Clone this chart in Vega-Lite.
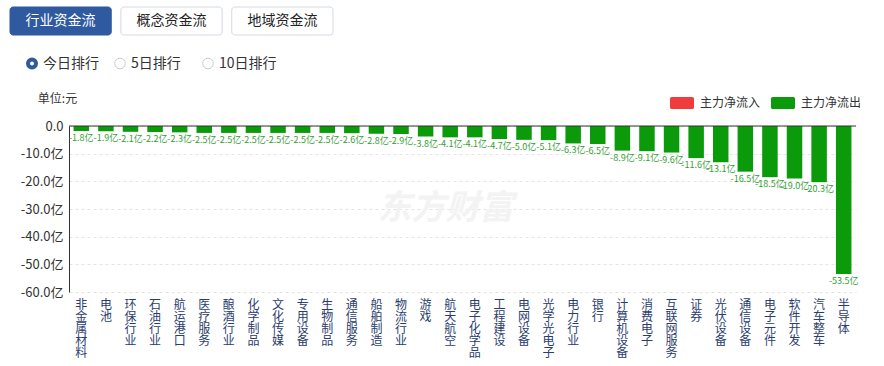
{
  "$schema": "https://vega.github.io/schema/vega-lite/v6.json",
  "background": "white",
  "padding": {"left": 9, "top": 6, "right": 20, "bottom": 4},
  "spacing": 9,
  "config": {"view": {"stroke": null}, "font": "Noto Sans CJK SC", "text": {"font": "Noto Sans CJK SC"}},
  "resolve": {"scale": {"x": "independent", "y": "independent", "color": "independent"}},
  "vconcat": [
    {
      "width": 264,
      "height": 28,
      "data": {"values": [
        {"name": "行业资金流", "active": true},
        {"name": "概念资金流", "active": false},
        {"name": "地域资金流", "active": false}
      ]},
      "encoding": {
        "x": {"field": "name", "type": "nominal", "sort": null, "axis": null,
              "scale": {"range": [-59, 264], "paddingInner": 0.087, "paddingOuter": 0}}
      },
      "layer": [
        {
          "mark": {"type": "bar", "cornerRadius": 3, "stroke": "#d3d9e2", "strokeWidth": 1},
          "encoding": {
            "fill": {"condition": {"test": "datum.active", "value": "#2f5aa0"}, "value": "#ffffff"},
            "stroke": {"condition": {"test": "datum.active", "value": "#2f5aa0"}, "value": "#d3d9e2"}
          }
        },
        {
          "mark": {"type": "text", "fontSize": 14, "baseline": "middle", "align": "center"},
          "encoding": {
            "text": {"field": "name"},
            "color": {"condition": {"test": "datum.active", "value": "#ffffff"}, "value": "#222222"}
          }
        }
      ]
    },
    {
      "width": 139,
      "height": 37,
      "data": {"values": [
        {"name": "今日排行", "active": true},
        {"name": "5日排行", "active": false},
        {"name": "10日排行", "active": false}
      ]},
      "encoding": {
        "x": {"field": "name", "type": "nominal", "sort": null, "axis": null,
              "scale": {"type": "point", "range": [-37, 139], "padding": 0}}
      },
      "layer": [
        {
          "mark": {"type": "point", "shape": "circle", "fill": "#ffffff", "opacity": 1},
          "encoding": {
            "stroke": {"condition": {"test": "datum.active", "value": "#2f5aa0"}, "value": "#cccccc"},
            "strokeWidth": {"condition": {"test": "datum.active", "value": 4}, "value": 1},
            "size": {"condition": {"test": "datum.active", "value": 64}, "value": 113}
          }
        },
        {
          "mark": {"type": "text", "fontSize": 14, "align": "left", "baseline": "middle", "dx": 11, "color": "#333333"},
          "encoding": {"text": {"field": "name"}}
        }
      ]
    },
    {
      "width": 787,
      "height": 166,
      "data": {"values": [
        {"industry": "非金属材料", "value": -1.8, "label": "-1.8亿", "type": "主力净流出"},
        {"industry": "电池", "value": -1.9, "label": "-1.9亿", "type": "主力净流出"},
        {"industry": "环保行业", "value": -2.1, "label": "-2.1亿", "type": "主力净流出"},
        {"industry": "石油行业", "value": -2.2, "label": "-2.2亿", "type": "主力净流出"},
        {"industry": "航运港口", "value": -2.3, "label": "-2.3亿", "type": "主力净流出"},
        {"industry": "医疗服务", "value": -2.5, "label": "-2.5亿", "type": "主力净流出"},
        {"industry": "酿酒行业", "value": -2.5, "label": "-2.5亿", "type": "主力净流出"},
        {"industry": "化学制品", "value": -2.5, "label": "-2.5亿", "type": "主力净流出"},
        {"industry": "文化传媒", "value": -2.5, "label": "-2.5亿", "type": "主力净流出"},
        {"industry": "专用设备", "value": -2.5, "label": "-2.5亿", "type": "主力净流出"},
        {"industry": "生物制品", "value": -2.5, "label": "-2.5亿", "type": "主力净流出"},
        {"industry": "通信服务", "value": -2.6, "label": "-2.6亿", "type": "主力净流出"},
        {"industry": "船舶制造", "value": -2.8, "label": "-2.8亿", "type": "主力净流出"},
        {"industry": "物流行业", "value": -2.9, "label": "-2.9亿", "type": "主力净流出"},
        {"industry": "游戏", "value": -3.8, "label": "-3.8亿", "type": "主力净流出"},
        {"industry": "航天航空", "value": -4.1, "label": "-4.1亿", "type": "主力净流出"},
        {"industry": "电子化学品", "value": -4.1, "label": "-4.1亿", "type": "主力净流出"},
        {"industry": "工程建设", "value": -4.7, "label": "-4.7亿", "type": "主力净流出"},
        {"industry": "电网设备", "value": -5.0, "label": "-5.0亿", "type": "主力净流出"},
        {"industry": "光学光电子", "value": -5.1, "label": "-5.1亿", "type": "主力净流出"},
        {"industry": "电力行业", "value": -6.3, "label": "-6.3亿", "type": "主力净流出"},
        {"industry": "银行", "value": -6.5, "label": "-6.5亿", "type": "主力净流出"},
        {"industry": "计算机设备", "value": -8.9, "label": "-8.9亿", "type": "主力净流出"},
        {"industry": "消费电子", "value": -9.1, "label": "-9.1亿", "type": "主力净流出"},
        {"industry": "互联网服务", "value": -9.6, "label": "-9.6亿", "type": "主力净流出"},
        {"industry": "证券", "value": -11.6, "label": "-11.6亿", "type": "主力净流出"},
        {"industry": "光伏设备", "value": -13.1, "label": "-13.1亿", "type": "主力净流出"},
        {"industry": "通信设备", "value": -16.5, "label": "-16.5亿", "type": "主力净流出"},
        {"industry": "电子元件", "value": -18.5, "label": "-18.5亿", "type": "主力净流出"},
        {"industry": "软件开发", "value": -19.0, "label": "-19.0亿", "type": "主力净流出"},
        {"industry": "汽车整车", "value": -20.3, "label": "-20.3亿", "type": "主力净流出"},
        {"industry": "半导体", "value": -53.5, "label": "-53.5亿", "type": "主力净流出"}
      ]},
      "encoding": {
        "x": {"field": "industry", "type": "nominal", "sort": null,
              "scale": {"paddingInner": 0.37, "paddingOuter": 0.185},
              "axis": {"title": null, "orient": "bottom", "domain": false, "ticks": false, "grid": false,
                       "labelAngle": 0, "labelExpr": "split(datum.label, '')", "labelFontSize": 12,
                       "labelLineHeight": 12, "labelColor": "#2a3d6e", "labelBaseline": "top",
                       "labelPadding": 7, "labelOverlap": false, "labelBound": false, "labelFont": "Noto Sans CJK SC"}},
        "y": {"field": "value", "type": "quantitative", "scale": {"domain": [-60, 0], "nice": false},
              "axis": {"values": [0, -10, -20, -30, -40, -50, -60], "tickCount": 7, "labelOverlap": false,
                       "labelExpr": "datum.value == 0 ? '0.0' : '-' + format(-datum.value, '.1f') + '亿'",
                       "title": "单位:元", "titleAngle": 0, "titleX": -12, "titleY": -28,
                       "titleAlign": "center", "titleBaseline": "middle", "titleFontWeight": "normal",
                       "titleFontSize": 12, "titleColor": "#333333", "labelColor": "#333333",
                       "labelFontSize": 13, "labelPadding": 6, "ticks": false, "domainColor": "#333333",
                       "gridDash": [3, 3], "gridColor": "#e3e3e3"}}
      },
      "layer": [
        {
          "data": {"values": [{"wm": "东方财富"}]},
          "mark": {"type": "text", "fontSize": 34, "fontWeight": "bold", "fontStyle": "italic", "color": "#f3f3f3", "dx": -17, "baseline": "middle", "align": "center"},
          "encoding": {"x": null, "y": null, "text": {"field": "wm"}}
        },
        {
          "mark": {"type": "bar"},
          "encoding": {
            "color": {"field": "type", "type": "nominal",
                      "scale": {"domain": ["主力净流入", "主力净流出"], "range": ["#f03c3c", "#0a9a0a"]},
                      "legend": {"title": null, "orient": "none", "legendX": 601, "legendY": -35,
                                 "direction": "horizontal",
                                 "symbolType": "M-0.85,-0.5H0.85A0.15,0.15 0 0 1 1,-0.35V0.35A0.15,0.15 0 0 1 0.85,0.5H-0.85A0.15,0.15 0 0 1 -1,0.35V-0.35A0.15,0.15 0 0 1 -0.85,-0.5Z",
                                 "symbolSize": 576, "symbolStrokeWidth": 0, "symbolOpacity": 1,
                                 "labelFontSize": 12, "labelColor": "#333333", "labelOffset": 6,
                                 "columnPadding": 10}}
          }
        },
        {
          "mark": {"type": "text", "baseline": "top", "dy": 3, "fontSize": 9, "color": "#33a033"},
          "encoding": {"text": {"field": "label"}}
        },
        {
          "data": {"values": [{"zero": 0}]},
          "mark": {"type": "rule", "color": "#333333", "strokeWidth": 1},
          "encoding": {"x": null, "y": {"field": "zero", "type": "quantitative"}}
        }
      ]
    }
  ]
}
